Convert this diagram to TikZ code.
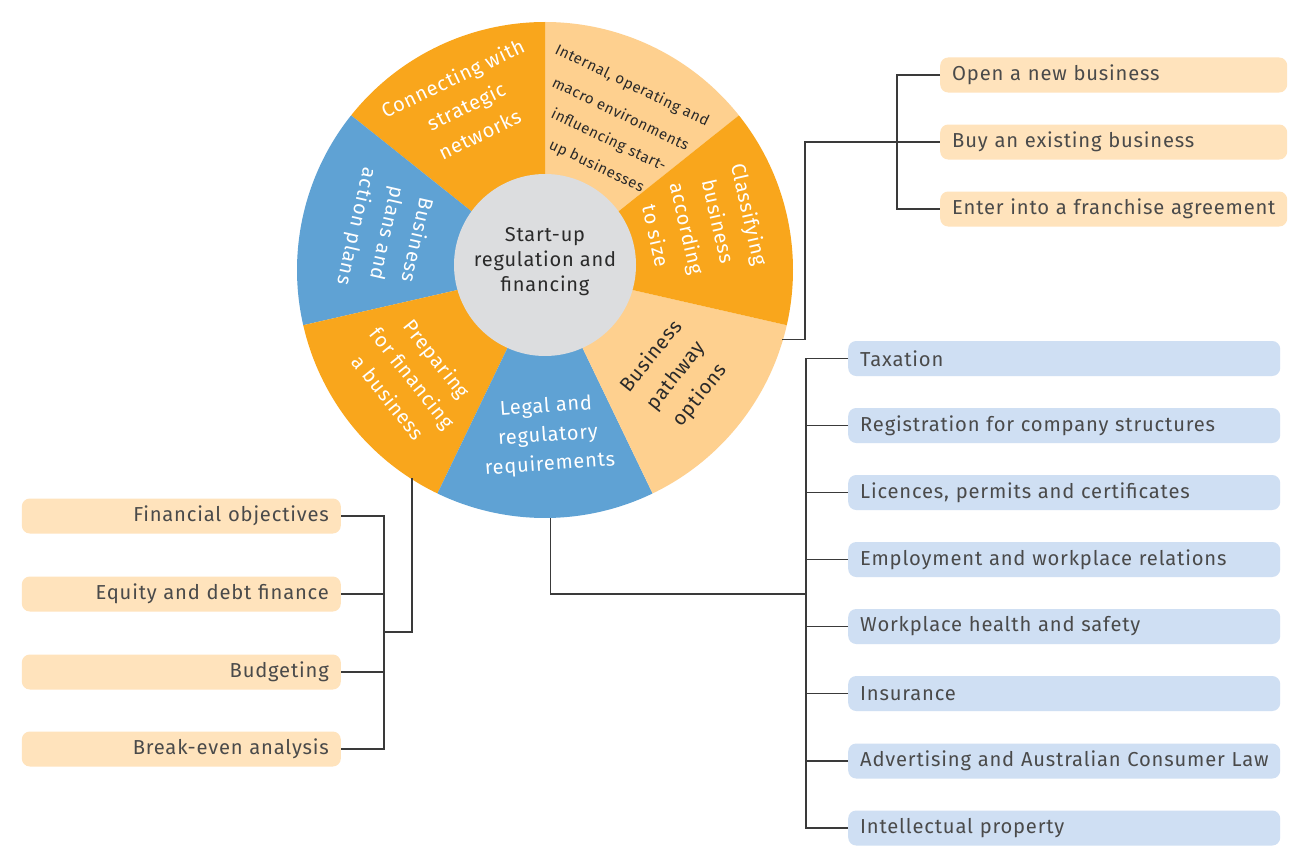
\documentclass[tikz,border=0pt]{standalone}
\usepackage{fontspec}
\setmainfont{Fira Sans}[LetterSpace=4]
\definecolor{org}{HTML}{F9A61C}
\definecolor{lorg}{HTML}{FED08F}
\definecolor{blu}{HTML}{5FA2D4}
\definecolor{boxo}{HTML}{FFE3BC}
\definecolor{boxb}{HTML}{CFDFF3}
\definecolor{gry}{HTML}{DCDDDF}
\definecolor{ink}{HTML}{4A4A4A}
\definecolor{dark}{HTML}{2A2A2A}
\definecolor{wirec}{HTML}{3A3A3A}
\begin{document}
\begin{tikzpicture}[x=1pt,y=1pt,
  wt/.style={text=white, align=center, font=\fontsize{20}{31}\selectfont, inner sep=0pt},
  dt/.style={text=dark, align=center, font=\fontsize{20}{31}\selectfont, inner sep=0pt},
  it/.style={text=dark, font=\fontsize{15}{18}\selectfont, inner sep=0pt, rotate=-25.71, anchor=base west},
  boxbase/.style={rounded corners=8pt, minimum height=35pt, inner xsep=12pt, inner ysep=0pt, text=ink, font=\fontsize{20.2}{22}\selectfont},
  obox/.style={boxbase, fill=boxo, text width=323pt, align=left, anchor=west},
  bbox/.style={boxbase, fill=boxb, text width=408pt, align=left, anchor=west},
  lbox/.style={boxbase, fill=boxo, text width=295pt, align=right, anchor=east},
  wire/.style={draw=wirec, line width=1.3pt}]
\useasboundingbox (0,0) rectangle (1298,-859);
\fill[white] (0,0) rectangle (1298,-859);
\coordinate (C) at (545,-270);
% wheel segments
\fill[lorg] (C) -- ++(38.57:248pt) arc[start angle=38.57, end angle=90, radius=248pt] -- cycle;
\fill[org]  (C) -- ++(90:248pt) arc[start angle=90, end angle=141.43, radius=248pt] -- cycle;
\fill[blu]  (C) -- ++(141.43:248pt) arc[start angle=141.43, end angle=192.86, radius=248pt] -- cycle;
\fill[org]  (C) -- ++(192.86:248pt) arc[start angle=192.86, end angle=244.29, radius=248pt] -- cycle;
\fill[blu]  (C) -- ++(244.29:248pt) arc[start angle=244.29, end angle=295.71, radius=248pt] -- cycle;
\fill[lorg] (C) -- ++(295.71:248pt) arc[start angle=295.71, end angle=347.14, radius=248pt] -- cycle;
\fill[org]  (C) -- ++(347.14:248pt) arc[start angle=347.14, end angle=398.57, radius=248pt] -- cycle;
\node[circle, fill=gry, minimum size=182pt, inner sep=0pt] (hub) at (545,-265) {};
\node[text=dark, align=center, font=\fontsize{20}{25}\selectfont, inner sep=0pt] (title) at (545,-262) {Start-up\\regulation and\\financing};
% segment labels
\node[wt, rotate=25.71] (tcon) at (466,-106) {Connecting with\\strategic\\networks};
\node[wt, rotate=-102.86] (tbp) at (386,-233) {Business\\plans and\\action plans};
\node[wt, rotate=-51.43] (tpf) at (413,-378) {Preparing\\for financing\\a business};
\node[wt, rotate=4, font=\fontsize{20}{29}\selectfont] (tlg) at (548,-436) {Legal and\\regulatory\\requirements};
\node[dt, rotate=51.43] (tpw) at (676,-376) {Business\\pathway\\options};
\node[wt, rotate=-77.14, font=\fontsize{20}{32}\selectfont] (tcl) at (703,-225) {Classifying\\business\\according\\to size};
\node[it] (i1) at (554,-53) {Internal, operating and};
\node[it] (i2) at (551,-86) {macro environments};
\node[it] (i3) at (550,-117) {influencing start-};
\node[it] (i4) at (548,-148) {up businesses};
% right top boxes
\node[obox] (open) at (940,-75) {Open a new business};
\node[obox] (buy) at (940,-142) {Buy an existing business};
\node[obox] (fr) at (940,-209) {Enter into a franchise agreement};
% blue boxes
\node[bbox] (tax) at (848,-358.5) {Taxation};
\node[bbox] (reg) at (848,-425.5) {Registration for company structures};
\node[bbox] (lic) at (848,-492.5) {Licences, permits and certificates};
\node[bbox] (emp) at (848,-559.5) {Employment and workplace relations};
\node[bbox] (whs) at (848,-626.5) {Workplace health and safety};
\node[bbox] (ins) at (848,-693.5) {Insurance};
\node[bbox] (adv) at (848,-761) {Advertising and Australian Consumer Law};
\node[bbox] (ip) at (848,-828) {Intellectual property};
% left boxes
\node[lbox] (fo) at (341,-516) {Financial objectives};
\node[lbox] (eq) at (341,-594) {Equity and debt finance};
\node[lbox] (bud) at (341,-672) {Budgeting};
\node[lbox] (be) at (341,-749) {Break-even analysis};
% connectors
\path (C) ++(-16.3:247pt) coordinate (pw);
\draw[wire] (pw) -- ++(23,0) |- (buy.west);
\draw[wire] (open.west) -- ++(-43,0) |- (fr.west);
\draw[wire] (tax.west) -- ++(-42,0) |- (ip.west);
\foreach \n in {reg,lic,emp,whs,ins,adv} \draw[wire] (\n.west) -- ++(-42,0);
\path (C) ++(-88.8:248pt) coordinate (lg);
\coordinate (jr) at (806,-594);
\draw[wire] (lg) |- (jr);
\draw[wire] (fo.east) -- ++(43,0) |- (be.east);
\foreach \n in {eq,bud} \draw[wire] (\n.east) -- ++(43,0);
\path (C) ++(-122.6:247pt) coordinate (pf);
\coordinate (jl) at (384,-632);
\draw[wire] (pf) |- (jl);
\end{tikzpicture}
\end{document}
